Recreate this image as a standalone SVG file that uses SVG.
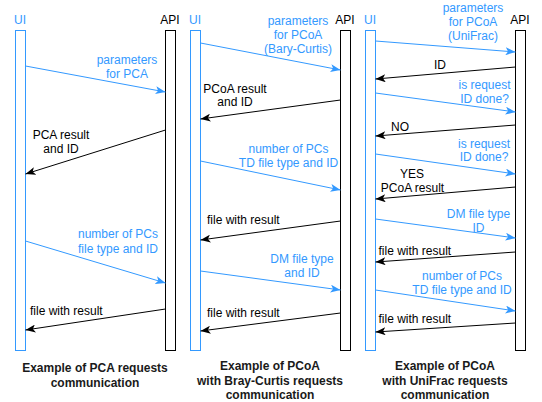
<svg xmlns="http://www.w3.org/2000/svg" width="542" height="402" viewBox="0 0 542 402">
<style>
text{font-family:"Liberation Sans",Arial,sans-serif;font-size:12px}
.b{fill:#3399FF}
.k{fill:#000000}
.c{text-anchor:middle}
.cap{font-weight:bold;fill:#1a1a1a;text-anchor:middle}
.ui{fill:#ffffff;stroke:#3399FF;stroke-width:1}
.api{fill:#ffffff;stroke:#000000;stroke-width:1}
.lb{stroke:#3399FF;stroke-width:1;fill:none;marker-end:url(#ab)}
.lk{stroke:#000000;stroke-width:1;fill:none;marker-end:url(#ak)}
</style>
<defs>
<marker id="ab" viewBox="0 0 10 8" refX="10" refY="4" markerWidth="10" markerHeight="8" markerUnits="userSpaceOnUse" orient="auto"><path d="M0,0 L10,4 L0,8 L2.5,4 Z" fill="#3399FF"/></marker>
<marker id="ak" viewBox="0 0 10 8" refX="10" refY="4" markerWidth="10" markerHeight="8" markerUnits="userSpaceOnUse" orient="auto"><path d="M0,0 L10,4 L0,8 L2.5,4 Z" fill="#000000"/></marker>
</defs>
<rect width="542" height="402" fill="#ffffff"/>

<g id="ui1"><text x="20" y="24" class="b c">UI</text><rect x="15.5" y="30.5" width="10" height="320" class="ui"/></g>
<g id="api1"><text x="170" y="24" class="k c">API</text><rect x="165.5" y="30.5" width="10" height="320" class="api"/></g>
<g id="ui2"><text x="195" y="24" class="b c">UI</text><rect x="190.5" y="30.5" width="10" height="320" class="ui"/></g>
<g id="api2"><text x="345" y="24" class="k c">API</text><rect x="340.5" y="30.5" width="10" height="320" class="api"/></g>
<g id="ui3"><text x="370" y="24" class="b c">UI</text><rect x="365.5" y="30.5" width="10" height="320" class="ui"/></g>
<g id="api3"><text x="520" y="24" class="k c">API</text><rect x="515.5" y="30.5" width="10" height="320" class="api"/></g>

<g id="connectors">
<line x1="25.5" y1="66" x2="165.5" y2="92" class="lb"/>
<line x1="165.5" y1="130" x2="25.5" y2="174" class="lk"/>
<line x1="25.5" y1="241" x2="165.5" y2="283" class="lb"/>
<line x1="165.5" y1="309" x2="25.5" y2="330" class="lk"/>

<line x1="200.5" y1="43" x2="340.5" y2="70" class="lb"/>
<line x1="340.5" y1="100" x2="200.5" y2="119" class="lk"/>
<line x1="200.5" y1="161" x2="340.5" y2="190" class="lb"/>
<line x1="340.5" y1="221" x2="200.5" y2="240" class="lk"/>
<line x1="200.5" y1="271" x2="340.5" y2="290" class="lb"/>
<line x1="340.5" y1="313" x2="200.5" y2="331" class="lk"/>

<line x1="375.5" y1="41" x2="515.5" y2="52" class="lb"/>
<line x1="515.5" y1="67" x2="375.5" y2="79" class="lk"/>
<line x1="375.5" y1="93" x2="515.5" y2="112" class="lb"/>
<line x1="515.5" y1="125" x2="375.5" y2="136" class="lk"/>
<line x1="375.5" y1="154" x2="515.5" y2="174" class="lb"/>
<line x1="515.5" y1="187" x2="375.5" y2="199" class="lk"/>
<line x1="375.5" y1="219" x2="515.5" y2="238" class="lb"/>
<line x1="515.5" y1="252" x2="375.5" y2="262" class="lk"/>
<line x1="375.5" y1="290" x2="515.5" y2="311" class="lb"/>
<line x1="515.5" y1="323" x2="375.5" y2="332" class="lk"/>
</g>

<g id="labels">
<text x="127" y="64" class="b c">parameters</text>
<text x="127" y="77.5" class="b c">for PCA</text>
<text x="61" y="139" class="k c">PCA result</text>
<text x="61" y="152.5" class="k c">and ID</text>
<text x="118" y="238" class="b c">number of PCs</text>
<text x="118" y="252.5" class="b c">file type and ID</text>
<text x="30" y="315" class="k">file with result</text>

<text x="298" y="24.5" class="b c">parameters</text>
<text x="298" y="38.5" class="b c">for PCoA</text>
<text x="298" y="52.5" class="b c">(Bary-Curtis)</text>
<text x="235" y="92.5" class="k c">PCoA result</text>
<text x="235" y="106" class="k c">and ID</text>
<text x="288.5" y="152.5" class="b c">number of PCs</text>
<text x="288.5" y="166.5" class="b c">TD file type and ID</text>
<text x="207" y="223.5" class="k">file with result</text>
<text x="302" y="263" class="b c">DM file type</text>
<text x="302" y="277" class="b c">and ID</text>
<text x="207" y="316.5" class="k">file with result</text>

<text x="473" y="11.5" class="b c">parameters</text>
<text x="473" y="25.5" class="b c">for PCoA</text>
<text x="473" y="39.5" class="b c">(UniFrac)</text>
<text x="440" y="68.5" class="k c">ID</text>
<text x="484.5" y="89" class="b c">is request</text>
<text x="484.5" y="103" class="b c">ID done?</text>
<text x="400" y="131" class="k c">NO</text>
<text x="484" y="147.5" class="b c">is request</text>
<text x="484" y="161" class="b c">ID done?</text>
<text x="412" y="177.5" class="k c">YES</text>
<text x="412.5" y="191.5" class="k c">PCoA result</text>
<text x="478.5" y="218" class="b c">DM file type</text>
<text x="478.5" y="231.5" class="b c">ID</text>
<text x="378.5" y="255" class="k">file with result</text>
<text x="462" y="280" class="b c">number of PCs</text>
<text x="462" y="294" class="b c">TD file type and ID</text>
<text x="378.5" y="322.5" class="k">file with result</text>
</g>

<g id="captions">
<text x="95" y="372" class="cap">Example of PCA requests</text>
<text x="95" y="386.5" class="cap">communication</text>
<text x="270" y="370" class="cap">Example of PCoA</text>
<text x="270" y="384.5" class="cap">with Bray-Curtis requests</text>
<text x="270" y="398.5" class="cap">communication</text>
<text x="445" y="370" class="cap">Example of PCoA</text>
<text x="445" y="384.5" class="cap">with UniFrac requests</text>
<text x="445" y="398.5" class="cap">communication</text>
</g>
</svg>
